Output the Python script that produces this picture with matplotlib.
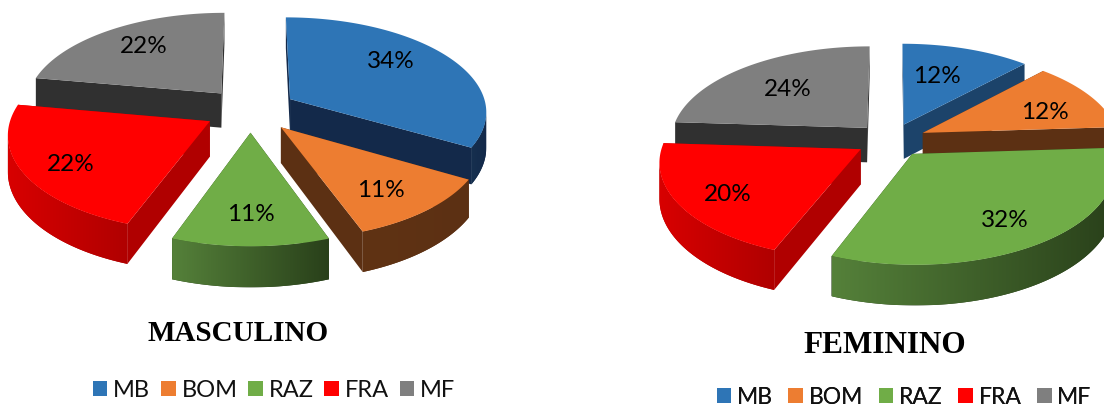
import numpy as np
import matplotlib
matplotlib.use('Agg')
import matplotlib.pyplot as plt
from matplotlib.colors import LinearSegmentedColormap
from matplotlib.patches import Patch, Polygon

categories = ['MB', 'BOM', 'RAZ', 'FRA', 'MF']
# slice sizes as drawn, the printed labels are rounded
masculino = [33.3, 11.1, 11.1, 22.2, 22.2]
masculino_labels = ['34%', '11%', '11%', '22%', '22%']
feminino = [12, 12, 32, 20, 24]
feminino_labels = ['12%', '12%', '32%', '20%', '24%']

tops = ['#2E75B6', '#ED7D31', '#70AD47', '#FF0000', '#7F7F7F']
# wall colour (left end, right end of the fade)
walls = [('#16304F', '#13294A'), ('#603314', '#5C3013'), ('#55813A', '#29401A'),
         ('#D80000', '#B00000'), ('#3A3A3A', '#303030')]
walls_f = [('#1F4A75', '#1C436A')] + walls[1:]

K = 0.12   # perspective
RX = 197
RY = 94
DEPTH = 35


def project(u, v, z, cx, cy):
    s = 1 / (1 + K * v)
    return cx + RX * u * s, cy - RY * v * s + z * s


def draw_pie(ax, values, labels, cx, cy, explode, wall_cols, label_r, nudge):
    fracs = np.array(values) / sum(values)
    edges = np.concatenate([[0], np.cumsum(fracs)]) * 2 * np.pi
    mids = (edges[:-1] + edges[1:]) / 2
    # far slices first
    for i in sorted(range(len(values)), key=lambda n: -np.cos(mids[n])):
        mid = mids[i]
        a = np.linspace(edges[i], edges[i + 1], 200)
        ou, ov = explode * np.sin(mid), explode * np.cos(mid)
        u = ou + np.sin(a)
        v = ov + np.cos(a)
        left, right = wall_cols[i]

        # cut faces
        for ea in (edges[i], edges[i + 1]):
            x0, y0 = project(ou, ov, 0, cx, cy)
            x1, y1 = project(ou + np.sin(ea), ov + np.cos(ea), 0, cx, cy)
            x2, y2 = project(ou + np.sin(ea), ov + np.cos(ea), DEPTH, cx, cy)
            x3, y3 = project(ou, ov, DEPTH, cx, cy)
            ax.add_patch(Polygon([(x0, y0), (x1, y1), (x2, y2), (x3, y3)],
                                 fc=right, ec='none', zorder=1))

        # outer wall, only where the rim runs right to left (that part faces us)
        xt, yt = project(u, v, 0, cx, cy)
        xb, yb = project(u, v, DEPTH, cx, cy)
        front = np.gradient(xt) < 0
        xt_f, yt_f, xb_f, yb_f = xt[front], yt[front], xb[front], yb[front]
        if len(xt_f) > 1:
            pts = list(zip(xt_f, yt_f)) + list(zip(xb_f[::-1], yb_f[::-1]))
            clip = Polygon(pts, fc=right, ec='none', zorder=1)
            ax.add_patch(clip)
            cmap = LinearSegmentedColormap.from_list('w', [left, right])
            im = ax.imshow(np.linspace(0, 1, 256)[None, :], cmap=cmap, aspect='auto', zorder=1,
                           extent=[xt_f.min(), xt_f.max(), yb_f.max(), yt_f.min()])
            im.set_clip_path(clip)

        # top face
        pts = [project(ou, ov, 0, cx, cy)] + list(zip(xt, yt))
        ax.add_patch(Polygon(pts, fc=tops[i], ec='none', zorder=1))

        lx, ly = project(ou + label_r[i] * np.sin(mid), ov + label_r[i] * np.cos(mid), 0, cx, cy)
        ax.text(lx + nudge[i][0], ly + nudge[i][1], labels[i], ha='center', va='center',
                fontsize=17.5, family='Lato', color='black', zorder=5)


fig = plt.figure(figsize=(11.04, 4.10), dpi=100)
ax = fig.add_axes([0, 0, 1, 1])
ax.axis('off')

draw_pie(ax, masculino, masculino_labels, 250.5, 111, 0.235, walls, [0.6, 0.6, 0.6, 0.7, 0.6],
         [(5, -12), (16, 14), (0, 16), (-11, 7), (-9, -9)])
draw_pie(ax, feminino, feminino_labels, 891, 141, 0.18, walls_f, [0.65, 0.75, 0.6, 0.7, 0.6],
         [(-9, 2), (-4, 7), (16, 15), (-8, 7), (-5, -1)])

ax.set_xlim(0, 1104)
ax.set_ylim(410, 0)

ax.text(238, 334, 'MASCULINO', ha='center', va='center', fontsize=21,
        family='Liberation Serif', weight='bold', color='black')
ax.text(884.5, 346, 'FEMININO', ha='center', va='center', fontsize=22.5,
        family='Liberation Serif', weight='bold', color='black')

handles = [Patch(fc=c, ec='none') for c in tops]
for lx, ly, gap, size in [(274, 391, 0.45, 17), (904, 398, 0.7, 16.5)]:
    leg = ax.legend(handles, categories, loc='center', bbox_to_anchor=(lx, ly),
                    bbox_transform=ax.transData, ncol=5, frameon=False,
                    prop={'family': 'Lato', 'size': size}, handlelength=0.62,
                    handleheight=0.62, handletextpad=0.25, columnspacing=gap,
                    borderaxespad=0, borderpad=0, labelcolor='#111111')
    ax.add_artist(leg)

fig.savefig('out.png', dpi=100)
